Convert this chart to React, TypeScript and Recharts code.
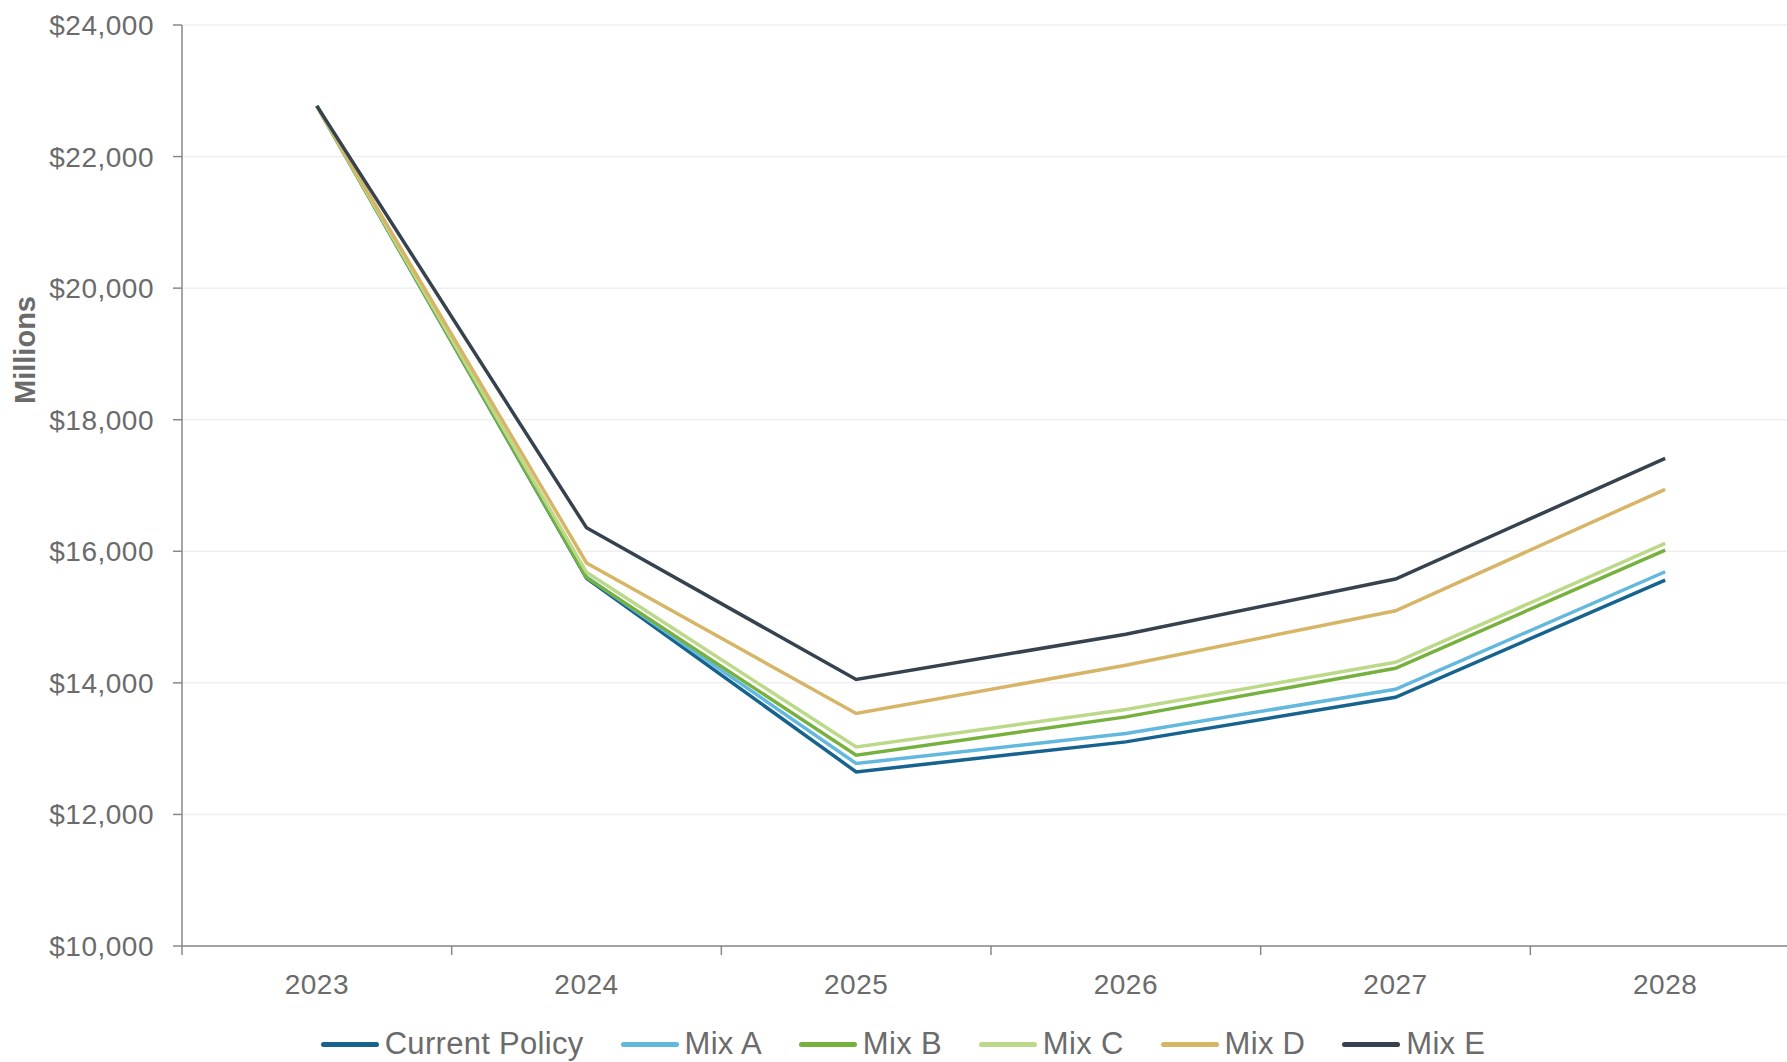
import { CartesianGrid, Label, Legend, Line, LineChart, XAxis, YAxis } from 'recharts';

const years = ['2023', '2024', '2025', '2026', '2027', '2028'];
const currentPolicy = [22770, 15590, 12647, 13103, 13780, 15563];
const mixA = [22770, 15610, 12774, 13230, 13902, 15689];
const mixB = [22770, 15600, 12901, 13483, 14221, 16019];
const mixC = [22770, 15680, 13027, 13594, 14312, 16121];
const mixD = [22770, 15822, 13534, 14269, 15096, 16942];
const mixE = [22770, 16358, 14051, 14740, 15578, 17413];
const yTicks = [10000, 12000, 14000, 16000, 18000, 20000, 22000, 24000];

const series = [
  { key: 'current', name: 'Current Policy', values: currentPolicy, color: '#17638f' },
  { key: 'mixA', name: 'Mix A', values: mixA, color: '#63b8de' },
  { key: 'mixB', name: 'Mix B', values: mixB, color: '#76b13d' },
  { key: 'mixC', name: 'Mix C', values: mixC, color: '#bcd98a' },
  { key: 'mixD', name: 'Mix D', values: mixD, color: '#d7b567' },
  { key: 'mixE', name: 'Mix E', values: mixE, color: '#36434f' },
];

// x sits in the middle of each year band so tick marks fall on band edges
const data = years.map((year, i) => {
  const row: Record<string, number | string> = { year, x: i + 0.5 };
  series.forEach((s) => {
    row[s.key] = s.values[i];
  });
  return row;
});

const CHART_W = 1810;
const CHART_H = 1062;
const PLOT_LEFT = 182;
const PLOT_RIGHT = 1800;
const LEGEND_H = 36;
const bandWidth = (PLOT_RIGHT - PLOT_LEFT) / years.length;

const FONT = '"Liberation Sans", Arial, sans-serif';
const TEXT = '#6b6b6b';

const formatMoney = (v: number) => `$${v.toLocaleString('en-US')}`;

const YearTick = (props: any) => {
  const { x, y, payload } = props;
  const idx = payload.value;
  if (idx >= years.length) return null;
  return (
    <text
      x={x + bandWidth / 2}
      y={y}
      dy="0.71em"
      textAnchor="middle"
      fill={TEXT}
      fontSize={28}
      fontFamily={FONT}
      letterSpacing={0.5}
    >
      {years[idx]}
    </text>
  );
};

const LegendContent = () => (
  <div
    style={{
      display: 'flex',
      justifyContent: 'center',
      alignItems: 'center',
      height: LEGEND_H,
      fontFamily: FONT,
      fontSize: 31,
      letterSpacing: 0.3,
      color: TEXT,
      paddingLeft: 56,
    }}
  >
    {series.map((s) => (
      <div key={s.key} style={{ display: 'flex', alignItems: 'center', marginRight: 37 }}>
        <span
          style={{
            display: 'inline-block',
            width: 58,
            height: 5,
            borderRadius: 3,
            background: s.color,
            marginRight: 6,
          }}
        />
        <span>{s.name}</span>
      </div>
    ))}
  </div>
);

export default function App() {
  return (
    <div
      style={{
        position: 'absolute',
        left: 0,
        top: 0,
        width: 1787,
        height: 1062,
        overflow: 'hidden',
        background: '#fff',
      }}
    >
      <LineChart
        width={CHART_W}
        height={CHART_H}
        data={data}
        margin={{ top: 25, right: CHART_W - PLOT_RIGHT, left: 0, bottom: 0 }}
      >
        <CartesianGrid vertical={false} stroke="#efefef" strokeWidth={1.5} />
        <XAxis
          type="number"
          dataKey="x"
          domain={[0, years.length]}
          ticks={[0, 1, 2, 3, 4, 5, 6]}
          interval={0}
          stroke="#888"
          strokeWidth={1.5}
          tickSize={9}
          tickMargin={19}
          tick={<YearTick />}
          height={116 - LEGEND_H}
        />
        <YAxis
          width={PLOT_LEFT}
          domain={[10000, 24000]}
          ticks={yTicks}
          interval={0}
          stroke="#888"
          strokeWidth={1.5}
          tickSize={9}
          tickMargin={19}
          tickFormatter={formatMoney}
          tick={{ fill: TEXT, fontSize: 28, fontFamily: FONT, letterSpacing: 0.5 }}
        >
          <Label
            content={() => (
              <text
                x={35}
                y={350}
                transform="rotate(-90 35 350)"
                textAnchor="middle"
                fill={TEXT}
                fontSize={29}
                fontWeight="bold"
                fontFamily={FONT}
              >
                Millions
              </text>
            )}
          />
        </YAxis>
        <Legend
          verticalAlign="bottom"
          align="center"
          height={LEGEND_H}
          content={<LegendContent />}
          wrapperStyle={{ bottom: 0, left: 0, width: 1787 }}
        />
        {series.map((s) => (
          <Line
            key={s.key}
            type="linear"
            dataKey={s.key}
            name={s.name}
            stroke={s.color}
            strokeWidth={3.5}
            dot={false}
            activeDot={false}
            isAnimationActive={false}
          />
        ))}
      </LineChart>
    </div>
  );
}
